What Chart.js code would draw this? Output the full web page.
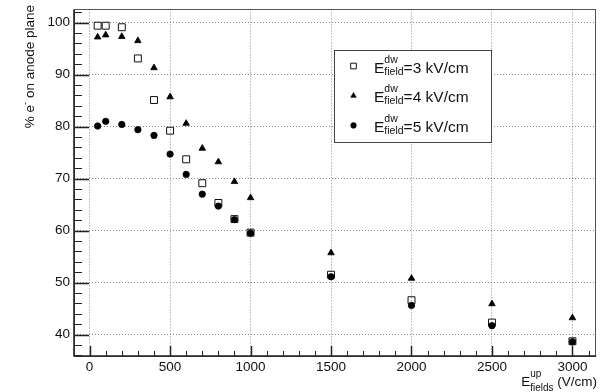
<!DOCTYPE html>
<html><head><meta charset="utf-8">
<script src="https://cdn.jsdelivr.net/npm/chart.js@4/dist/chart.umd.min.js"></script>
<style>html,body{margin:0;padding:0;background:#fff;} canvas{display:block;}</style>
</head><body>
<canvas id="c" width="602" height="392"></canvas>
<script>
// ---- data ----
const fieldUp = [50,100,200,300,400,500,600,700,800,900,1000,1500,2000,2500,3000];
const eff3kV  = [99.4,99.4,99.1,93.1,85.1,79.2,73.7,69.1,65.3,62.2,59.6,51.5,46.6,42.3,38.7];
const eff4kV  = [97.2,97.6,97.3,96.5,91.3,85.7,80.6,75.8,73.2,69.4,66.3,55.7,50.8,45.9,43.2];
const eff5kV  = [80.1,81.0,80.4,79.4,78.3,74.7,70.8,67.0,64.7,62.1,59.5,51.1,45.6,41.7,38.6];
const xTicks = [0,500,1000,1500,2000,2500,3000];
const yTicks = [40,50,60,70,80,90,100];
const seriesLabels = ['=3 kV/cm','=4 kV/cm','=5 kV/cm'];
const yTitle = ['% e', '-', ' on anode plane'];
const xTitle = ['E', 'up', 'fields', ' (V/cm)'];
const legendSym = ['E', 'dw', 'field'];

const FONT = "'Liberation Sans', Arial, Helvetica, sans-serif";
Chart.defaults.font.family = FONT;

function pts(xs, ys){ return xs.map((x,i)=>({x:x, y:ys[i]})); }

const markerStyles = [
  {pointStyle:'rect', radius:4.9, borderWidth:1, borderColor:'#111', backgroundColor:'rgba(0,0,0,0)'},
  {pointStyle:'triangle', radius:3.8, borderWidth:0.8, borderColor:'#000', backgroundColor:'#000'},
  {pointStyle:'circle', radius:3.2, borderWidth:0.8, borderColor:'#000', backgroundColor:'#000'}
];

function richWidth(ctx, segs){
  let w = 0;
  for (const s of segs){
    ctx.font = s.size + 'px ' + FONT;
    if (s.stack){
      w += Math.max(ctx.measureText(s.sup).width, ctx.measureText(s.sub).width) + (s.gap||0);
    } else {
      w += ctx.measureText(s.t).width + (s.gap||0);
    }
  }
  return w;
}
function drawRich(ctx, segs, x, y){
  let cx = x;
  ctx.textAlign = 'left'; ctx.textBaseline = 'alphabetic';
  for (const s of segs){
    ctx.font = s.size + 'px ' + FONT;
    if (s.stack){
      ctx.fillText(s.sup, cx, y + s.supDy);
      ctx.fillText(s.sub, cx, y + s.subDy);
      cx += Math.max(ctx.measureText(s.sup).width, ctx.measureText(s.sub).width) + (s.gap||0);
    } else {
      ctx.fillText(s.t, cx, y + (s.dy||0));
      cx += ctx.measureText(s.t).width + (s.gap||0);
    }
  }
}

const decorPlugin = {
  id: 'decor',
  afterDraw(chart){
    const {ctx, chartArea: a, scales} = chart;
    const x = scales.x, y = scales.y;
    ctx.save();
    // minor / major ticks (inside)
    ctx.strokeStyle = '#222';
    ctx.lineWidth = 1;
    ctx.beginPath();
    for (let v = 0; v <= x.max; v += 100){
      if (v % 500 === 0) continue;
      const px = Math.round(x.getPixelForValue(v)) + 0.5;
      ctx.moveTo(px, a.bottom); ctx.lineTo(px, a.bottom - 5);
    }
    for (let v = 36; v <= y.max; v += 2){
      if (v % 10 === 0) continue;
      const py = Math.round(y.getPixelForValue(v)) + 0.5;
      ctx.moveTo(a.left, py); ctx.lineTo(a.left + 8, py);
    }
    ctx.stroke();
    ctx.lineWidth = 1.5;
    ctx.beginPath();
    for (const v of xTicks){
      const px = Math.round(x.getPixelForValue(v)) + 0.5;
      ctx.moveTo(px, a.bottom); ctx.lineTo(px, a.bottom - 10);
    }
    for (const v of yTicks){
      const py = Math.round(y.getPixelForValue(v)) + 0.5;
      ctx.moveTo(a.left, py); ctx.lineTo(a.left + 15, py);
    }
    ctx.stroke();
    // frame
    ctx.lineWidth = 1;
    ctx.strokeStyle = '#555';
    ctx.strokeRect(Math.round(a.left)+0.5, Math.round(a.top)+0.5, Math.round(a.right - a.left)-1, Math.round(a.bottom - a.top));
    ctx.lineWidth = 1.6;
    ctx.strokeStyle = '#222';
    ctx.beginPath();
    ctx.moveTo(a.left, a.top); ctx.lineTo(a.left, a.bottom); ctx.lineTo(a.right, a.bottom);
    ctx.stroke();

    ctx.fillStyle = '#111';
    // y title (rotated)
    const ySegs = [
      {t: yTitle[0], size: 13.5},
      {t: yTitle[1], size: 9.5, dy: -6},
      {t: yTitle[2], size: 13.5}
    ];
    const yw = richWidth(ctx, ySegs);
    ctx.save();
    ctx.translate(34, 5);
    ctx.rotate(-Math.PI/2);
    drawRich(ctx, ySegs, -yw, 0);
    ctx.restore();

    // x title
    const xSegs = [
      {t: xTitle[0], size: 13.5},
      {stack: true, sup: xTitle[1], sub: xTitle[2], size: 10, supDy: -9, subDy: 5},
      {t: xTitle[3], size: 13.5}
    ];
    const xw = richWidth(ctx, xSegs);
    drawRich(ctx, xSegs, 597 - xw, 386);

    // legend
    const lx = 334, ly = 50, lw = 157, lh = 92;
    ctx.fillStyle = '#fff';
    ctx.fillRect(lx, ly, lw, lh);
    ctx.strokeStyle = '#444';
    ctx.lineWidth = 1;
    ctx.strokeRect(lx + 0.5, ly + 0.5, lw, lh);
    const legMarker = [
      {style:'rect', radius:4.0, borderWidth:1, borderColor:'#111', backgroundColor:'rgba(0,0,0,0)'},
      {style:'triangle', radius:3.2, borderWidth:0.6, borderColor:'#000', backgroundColor:'#000'},
      {style:'circle', radius:2.8, borderWidth:0.6, borderColor:'#000', backgroundColor:'#000'}
    ];
    for (let i = 0; i < seriesLabels.length; i++){
      const base = 72.5 + i * 29.7;
      const m = legMarker[i];
      ctx.fillStyle = m.backgroundColor;
      ctx.strokeStyle = m.borderColor;
      ctx.lineWidth = m.borderWidth;
      Chart.helpers.drawPoint(ctx, {pointStyle: m.style, radius: m.radius, rotation: 0, borderWidth: m.borderWidth}, 353.5, base - 6.5);
      ctx.fillStyle = '#111';
      const segs = [
        {t: legendSym[0], size: 15.5},
        {stack: true, sup: legendSym[1], sub: legendSym[2], size: 10.5, supDy: -10, subDy: 2},
        {t: seriesLabels[i], size: 15.5}
      ];
      drawRich(ctx, segs, 374, base);
    }
    ctx.restore();
  }
};

new Chart(document.getElementById('c'), {
  type: 'scatter',
  data: {
    datasets: [
      {label: 'Edw_field=3 kV/cm', data: pts(fieldUp, eff3kV), order: 2,
       pointStyle: markerStyles[0].pointStyle, pointRadius: markerStyles[0].radius, pointBorderWidth: markerStyles[0].borderWidth,
       pointBorderColor: markerStyles[0].borderColor, pointBackgroundColor: markerStyles[0].backgroundColor},
      {label: 'Edw_field=4 kV/cm', data: pts(fieldUp, eff4kV), order: 1,
       pointStyle: markerStyles[1].pointStyle, pointRadius: markerStyles[1].radius, pointBorderWidth: markerStyles[1].borderWidth,
       pointBorderColor: markerStyles[1].borderColor, pointBackgroundColor: markerStyles[1].backgroundColor},
      {label: 'Edw_field=5 kV/cm', data: pts(fieldUp, eff5kV), order: 0,
       pointStyle: markerStyles[2].pointStyle, pointRadius: markerStyles[2].radius, pointBorderWidth: markerStyles[2].borderWidth,
       pointBorderColor: markerStyles[2].borderColor, pointBackgroundColor: markerStyles[2].backgroundColor}
    ]
  },
  options: {
    responsive: false,
    animation: false,
    devicePixelRatio: 1,
    layout: {padding: {left: 0, top: 6, right: 5, bottom: 0}},
    plugins: {legend: {display: false}, tooltip: {enabled: false}},
    scales: {
      x: {
        type: 'linear', min: -97, max: 3147,
        afterBuildTicks: s => { s.ticks = xTicks.map(v => ({value: v})); },
        afterFit: s => { s.height = 36; },
        grid: {display: true, drawTicks: false, color: '#8a8a8a', lineWidth: 1},
        border: {display: false, dash: [1, 2]},
        ticks: {padding: 3, color: '#111', font: {size: 13.5}, maxRotation: 0, autoSkip: false,
                callback: v => String(v)}
      },
      y: {
        type: 'linear', min: 35.87, max: 102.53,
        afterBuildTicks: s => { s.ticks = yTicks.map(v => ({value: v})); },
        afterFit: s => { s.width = 74; },
        grid: {display: true, drawTicks: false, color: '#8a8a8a', lineWidth: 1},
        border: {display: false, dash: [1, 2]},
        ticks: {padding: 4, color: '#111', font: {size: 13.5, lineHeight: 0.8}, autoSkip: false,
                callback: v => String(v)}
      }
    }
  },
  plugins: [decorPlugin]
});
</script>
</body></html>
